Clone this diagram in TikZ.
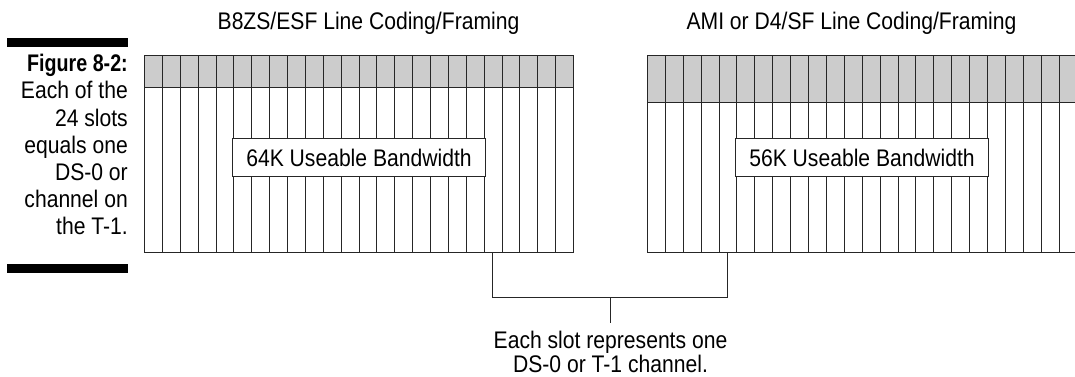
\documentclass[tikz,border=0pt]{standalone}
\usepackage{fontspec}
\setmainfont{Liberation Sans}[FakeStretch=0.88]
\newfontfamily\figboldfont{Liberation Sans}[FakeStretch=0.82]
\tikzset{
  gridline/.style={draw=black!85, line width=1.5pt},
  graycell/.style={fill=black!20},
  labelbox/.style={draw=black!85, line width=1.5pt, fill=white, minimum width=253pt, minimum height=38pt, inner sep=0pt, font=\fontsize{24}{27}\selectfont},
  title/.style={font=\fontsize{24}{27}\selectfont, anchor=base, inner sep=0pt},
  side/.style={font=\fontsize{24}{27}\selectfont, anchor=base east, inner sep=0pt},
  caption/.style={font=\fontsize{24}{24}\selectfont, align=center, inner xsep=0pt, inner ysep=8pt, anchor=north},
  bar/.style={fill=black},
  conn/.style={draw=black!85, line width=1.5pt},
}
\begin{document}
\begin{tikzpicture}[x=1pt, y=-1pt]
\useasboundingbox (0,0) rectangle (1075,377);
\clip (0,0) rectangle (1075,377);
% sidebar
\fill[bar] (7,38) rectangle (128,47);
\fill[bar] (7,264) rectangle (128,273);
\node[side, font=\fontsize{24}{27}\figboldfont\bfseries] (s1) at (128,72) {Figure 8-2:};
\node[side] (s2) at (128,99) {Each of the};
\node[side] (s3) at (128,126) {24 slots};
\node[side] (s4) at (128,153) {equals one};
\node[side] (s5) at (128,180) {DS-0 or};
\node[side] (s6) at (128,207) {channel on};
\node[side] (s7) at (128,234) {the T-1.};
% titles
\node[title] (t1) at (368.5,30) {B8ZS/ESF Line Coding/Framing};
\node[title] (t2) at (851.5,30) {AMI or D4/SF Line Coding/Framing};
% left grid
\fill[graycell] (144.5,55.5) rectangle (573.5,87.5);
\draw[gridline] (144.5,55.5) rectangle (573.5,252.5);
\draw[gridline] (144.5,87.5) -- (573.5,87.5);
\foreach \i in {1,...,23} {
  \pgfmathsetmacro{\xx}{144.5+round(17.875*\i)}
  \draw[gridline] (\xx,55.5) -- (\xx,252.5);
}
\node[labelbox] (bw64) at (359,157.5) {64K Useable Bandwidth};
% right grid
\fill[graycell] (647.5,55.5) rectangle (1077.5,102.5);
\draw[gridline] (647.5,55.5) rectangle (1077.5,252.5);
\draw[gridline] (647.5,102.5) -- (1077.5,102.5);
\foreach \i in {1,...,23} {
  \pgfmathsetmacro{\xx}{647.5+round(17.9*\i)}
  \draw[gridline] (\xx,55.5) -- (\xx,252.5);
}
\node[labelbox] (bw56) at (862,157.5) {56K Useable Bandwidth};
% connector
\coordinate (slotL) at (492.5,252.5);
\coordinate (slotR) at (727.5,252.5);
\coordinate (join) at (610.5,297.5);
\draw[conn] (slotL) |- (join) -| (slotR);
\node[caption] (cap) at (610.5,323) {Each slot represents one\\DS-0 or T-1 channel.};
\draw[conn] (join) -- (cap.north);
\end{tikzpicture}
\end{document}
